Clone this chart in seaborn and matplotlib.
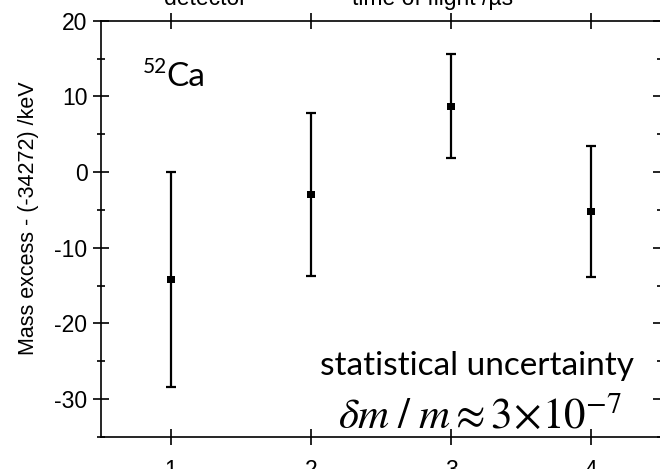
import matplotlib
matplotlib.use("Agg")
import matplotlib.pyplot as plt
from matplotlib.ticker import MultipleLocator, FixedLocator
import seaborn as sns
import pandas as pd

# Repeated 52Ca mass measurements (keV, offset by -34272 keV)
measurement = [1, 2, 3, 4]
mass_excess = [-14.2, -2.95, 8.7, -5.2]
uncertainty = [14.2, 10.8, 6.9, 8.7]
x_ticks = [1, 2, 3, 4]
y_ticks = [-30, -20, -10, 0, 10, 20]

sns.set_theme(style="ticks")
plt.rcParams["font.family"] = ["Liberation Sans", "DejaVu Sans"]
plt.rcParams["axes.unicode_minus"] = False

W, H = 660, 469
fig = plt.figure(figsize=(W / 100, H / 100), dpi=100)
left, right, top, bottom = 101, 661, 20.7, 437
ax = fig.add_axes([left / W, 1 - bottom / H, (right - left) / W, (bottom - top) / H])

df = pd.DataFrame({"measurement": measurement,
                   "mass_excess": mass_excess,
                   "uncertainty": uncertainty})

ax.errorbar(df["measurement"], df["mass_excess"], yerr=df["uncertainty"],
            fmt="none", ecolor="black", elinewidth=1.6, capsize=3.8,
            capthick=1.6, zorder=2)
sns.scatterplot(data=df, x="measurement", y="mass_excess", marker="s", s=26,
                color="black", edgecolor="none", ax=ax, zorder=3, legend=False)

ax.set_xlim(0.5, 4.5)
ax.set_ylim(-35, 20)
ax.xaxis.set_major_locator(FixedLocator(x_ticks))
ax.yaxis.set_major_locator(FixedLocator(y_ticks))
ax.yaxis.set_minor_locator(MultipleLocator(5))
ax.set_xlabel("")
ax.set_ylabel("")

for sp in ax.spines.values():
    sp.set_visible(True)
    sp.set_color("black")
    sp.set_linewidth(1.2)

ax.tick_params(axis="both", which="major", direction="inout", length=11.5,
               width=1.2, color="black", top=True, right=True,
               labeltop=False, labelright=False, labelsize=16.5,
               labelcolor="black")
ax.tick_params(axis="x", pad=10)
ax.tick_params(axis="y", pad=4)
ax.tick_params(axis="y", which="minor", direction="inout", length=5.8,
               width=1.2, color="black", left=True, right=True)

fig.text(29 / W, 1 - 218 / H, "Mass excess - (-34272) /keV", rotation=90,
         ha="center", va="center", fontsize=15.5, color="black")

# Axis titles of the panel above, only their lower edge shows
fig.text(205 / W, 1 - 5 / H, "detector", ha="center", va="baseline",
         fontsize=16.5, color="black")
fig.text(433 / W, 1 - 5 / H, "time of flight /µs", ha="center",
         va="baseline", fontsize=16.5, color="black")

# Isotope tag
fig.text(143 / W, 1 - 73 / H, "52", ha="left", va="baseline",
         fontsize=15, family="Lato", color="black")
fig.text(166 / W, 1 - 86 / H, "Ca", ha="left", va="baseline",
         fontsize=24, family="Lato", color="black")

fig.text(320 / W, 1 - 375 / H, "statistical uncertainty", ha="left",
         va="baseline", fontsize=24, family="Lato", color="black")
fig.text(338 / W, 1 - 428 / H,
         r"$\delta m\;/\;m \approx 3\!\times\!10^{-7}$",
         ha="left", va="baseline", fontsize=31, math_fontfamily="stix",
         color="black")

fig.savefig("out.png", dpi=100)
